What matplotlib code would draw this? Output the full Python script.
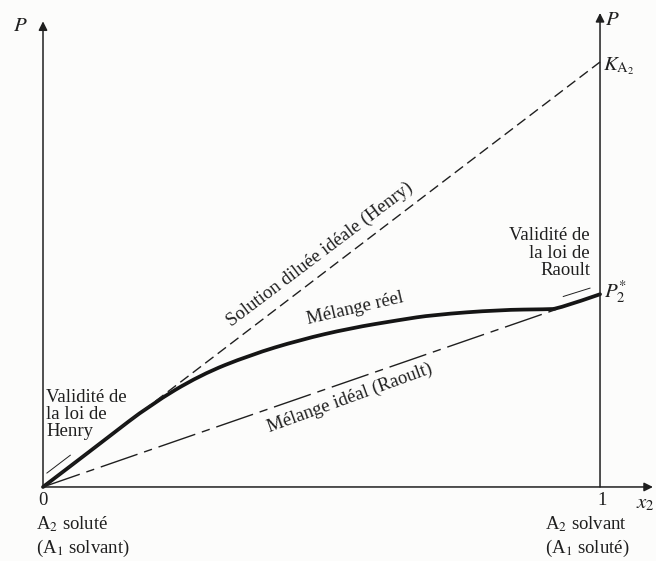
import matplotlib.pyplot as plt
from matplotlib.path import Path
from matplotlib.patches import PathPatch

plt.rcParams['font.family'] = ['Liberation Serif', 'DejaVu Serif']
plt.rcParams['mathtext.fontset'] = 'stix'

# P values at x2 = 1 (same unit as x2)
k_a2 = 0.763      # Henry constant
p2_star = 0.346   # pure A2 vapour pressure
x_raoult_end = 0.925

# "Mélange réel" curve
x_reel = [0.0, 0.050, 0.114, 0.192, 0.282, 0.372, 0.461, 0.551, 0.641, 0.700, 0.820, 0.905, 0.925, 1.0]
p_reel = [0.0, 0.038, 0.087, 0.147, 0.201, 0.237, 0.264, 0.285, 0.300, 0.309, 0.318, 0.319, 0.320, 0.346]

# small tangent marks ("validité" zones)
x_tan_henry = [0.007, 0.049]
p_tan_henry = [0.025, 0.057]
x_tan_raoult = [0.934, 0.982]
p_tan_raoult = [0.342, 0.357]

ink = '#1f1f1f'

fig = plt.figure(figsize=(6.56, 5.61), dpi=100)
fig.patch.set_facecolor('#fcfcfb')
ax = fig.add_axes([0, 0, 1, 1])
ax.set_xlim(-0.0772, 1.1005)
ax.set_ylim(-0.1329, 0.8743)
ax.axis('off')

# axes with arrows
arrow = dict(arrowstyle='-|>', color=ink, lw=1.1, mutation_scale=13, shrinkA=0, shrinkB=0)
ax.annotate('', xy=(0, 0.836), xytext=(0, 0), arrowprops=arrow)
ax.annotate('', xy=(1, 0.851), xytext=(1, 0), arrowprops=arrow)
ax.annotate('', xy=(1.095, 0), xytext=(0, 0), arrowprops=arrow)

# Henry (ideal dilute solution)
ax.plot([0, 1], [0, k_a2], color=ink, lw=1.0, dashes=(7.5, 3.8))
# Raoult (ideal mixture)
ax.plot([0, x_raoult_end], [0, p2_star * x_raoult_end], color=ink, lw=1.0,
        dashes=(28, 5, 6, 5))

# real mixture: smooth quadratic path through the read points
pts = list(zip(x_reel, p_reel))
verts = [pts[0]]
codes = [Path.MOVETO]
for i in range(1, len(pts) - 1):
    nxt = pts[i + 1] if i == len(pts) - 2 else ((pts[i][0] + pts[i + 1][0]) / 2,
                                                (pts[i][1] + pts[i + 1][1]) / 2)
    verts += [pts[i], nxt]
    codes += [Path.CURVE3, Path.CURVE3]
ax.add_patch(PathPatch(Path(verts, codes), facecolor='none', edgecolor='#151515',
                       lw=2.7, capstyle='round', joinstyle='round'))

ax.plot(x_tan_henry, p_tan_henry, color=ink, lw=0.7)
ax.plot(x_tan_raoult, p_tan_raoult, color=ink, lw=0.7)

fs = 13.5
ax.text(-0.041, 0.826, '$P$', fontsize=15, color=ink, ha='center', va='center')
ax.text(1.022, 0.838, '$P$', fontsize=15, color=ink, ha='center', va='center')
ax.text(1.005, 0.756, r'$K_{\mathrm{A}_2}$', fontsize=15, color=ink, ha='left', va='center')
ax.text(1.008, 0.350, r'$P_2^{*}$', fontsize=15, color=ink, ha='left', va='center')

ax.text(0, -0.024, '0', fontsize=fs, color=ink, ha='center', va='center')
ax.text(1.003, -0.024, '1', fontsize=fs, color=ink, ha='center', va='center')
ax.text(1.065, -0.030, '$x_2$', fontsize=15, color=ink, ha='left', va='center')

ax.text(-0.013, -0.066, 'A$_2$ soluté', fontsize=fs, color=ink, ha='left', va='center')
ax.text(-0.013, -0.110, '(A$_1$ solvant)', fontsize=fs, color=ink, ha='left', va='center')
ax.text(0.901, -0.066, 'A$_2$ solvant', fontsize=fs, color=ink, ha='left', va='center')
ax.text(0.901, -0.110, '(A$_1$ soluté)', fontsize=fs, color=ink, ha='left', va='center')

ax.text(0.006, 0.176, 'Validité de\nla loi de\nHenry', fontsize=fs, color=ink,
        ha='left', va='top', linespacing=1.02)
ax.text(0.982, 0.466, 'Validité de\nla loi de\nRaoult', fontsize=fs, color=ink,
        ha='right', va='top', linespacing=1.02, multialignment='right')

ax.text(0.497, 0.418, 'Solution diluée idéale (Henry)', fontsize=fs, color=ink,
        ha='center', va='center', rotation=37, rotation_mode='anchor')
ax.text(0.560, 0.320, 'Mélange réel', fontsize=fs, color=ink,
        ha='center', va='center', rotation=13, rotation_mode='anchor')
ax.text(0.551, 0.160, 'Mélange idéal (Raoult)', fontsize=fs, color=ink,
        ha='center', va='center', rotation=20, rotation_mode='anchor')

plt.savefig('out.png', dpi=100, facecolor=fig.get_facecolor())
